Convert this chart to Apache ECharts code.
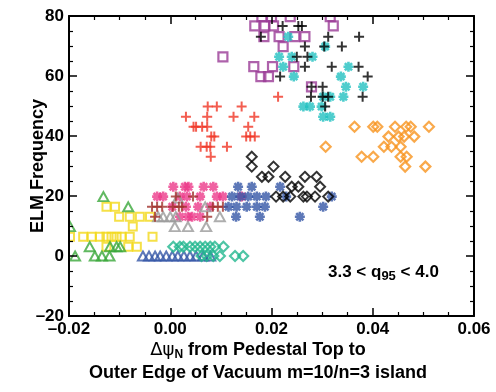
<!DOCTYPE html>
<html>
<head>
<meta charset="utf-8">
<script src="https://cdn.jsdelivr.net/npm/echarts@6/dist/echarts.min.js"></script>
<style>
  html, body { margin: 0; padding: 0; background: #fff; }
  #chart { width: 496px; height: 392px; }
</style>
</head>
<body>
<div id="chart"></div>
<script>
// Axis ticks
const xTicks = [-0.02, 0.00, 0.02, 0.04, 0.06];
const yTicks = [-20, 0, 20, 40, 60, 80];

// Each shot group: [delta psi_N, ELM frequency]
const orangeDiamonds = [
  [0.0364,43.1],[0.0401,43.1],[0.0409,43.1],[0.0444,43.1],[0.0466,43.1],[0.0475,43.1],[0.0511,43.1],
  [0.0431,39.8],[0.0451,39.8],[0.0462,39.8],[0.0482,39.8],
  [0.0307,36.4],[0.0422,36.4],[0.0437,36.4],[0.0455,36.4],
  [0.0378,33.1],[0.0401,33.1],[0.0455,33.1],[0.0467,33.1],
  [0.0464,29.8],[0.0504,29.8]
];
const redPlus = [
  [0.0074,49.8],[0.0092,49.8],[0.0141,49.8],
  [0.0031,46.4],[0.0073,46.4],[0.0125,46.4],[0.0166,46.4],
  [0.0046,43.1],[0.0051,43.1],[0.0063,43.1],[0.0073,43.1],[0.0154,43.1],
  [0.0081,39.8],[0.0087,39.8],[0.0150,39.8],[0.0158,39.8],[0.0167,39.8],
  [0.0060,36.4],[0.0072,36.4],[0.0079,36.4],[0.0112,36.4],
  [0.0080,33.1],
  [0.0213,53.1]
];
const purpleSquares = [
  [0.0167,76.7],[0.0187,76.7],[0.0204,76.7],
  [0.0181,79.8],[0.0200,79.8],[0.0237,79.8],[0.0316,79.8],[0.0322,76.7],
  [0.0185,73.1],[0.0215,73.1],[0.0246,73.1],[0.0266,73.1],
  [0.0223,69.8],[0.0104,66.4],
  [0.0165,63.1],[0.0202,63.1],[0.0244,63.1],
  [0.0179,59.8],[0.0194,59.8],
  [0.0279,56.4]
];
const blackPlus = [
  [0.0222,76.7],[0.0253,76.7],[0.0260,76.7],
  [0.0179,73.1],[0.0312,73.1],[0.0373,73.1],
  [0.0266,69.8],[0.0304,69.8],[0.0339,69.8],
  [0.0250,66.4],[0.0271,66.4],
  [0.0266,63.1],[0.0319,63.1],[0.0372,63.1],
  [0.0217,59.8],[0.0390,59.8],
  [0.0279,56.4],[0.0301,56.4],
  [0.0278,53.1],[0.0301,53.1],[0.0312,53.1],[0.0380,53.1],
  [0.0306,49.8]
];
const tealStars = [
  [0.0233,73.1],[0.0306,69.8],
  [0.0215,66.4],[0.0240,66.4],[0.0281,66.4],
  [0.0223,63.1],[0.0352,63.1],
  [0.0244,59.8],[0.0337,59.8],
  [0.0347,56.4],[0.0381,56.4],
  [0.0302,53.1],[0.0316,53.1],[0.0342,53.1],
  [0.0263,49.8],[0.0276,49.8],[0.0299,49.8],
  [0.0302,46.4],[0.0316,46.4]
];
const blackDiamonds = [
  [0.0161,33.1],[0.0161,29.8],[0.0204,29.8],
  [0.0181,26.4],[0.0194,26.4],[0.0227,26.4],[0.0266,26.4],[0.0289,26.4],
  [0.0240,23.1],[0.0253,23.1],[0.0296,23.1],
  [0.0209,19.8],[0.0223,19.8],[0.0237,19.8],[0.0263,19.8],[0.0270,19.8],[0.0286,19.8],[0.0312,19.8]
];
const blueStars = [
  [0.0134,23.1],[0.0161,23.1],[0.0217,23.1],
  [0.0122,19.8],[0.0138,19.8],[0.0154,19.8],[0.0171,19.8],[0.0189,19.8],[0.0229,19.8],[0.0319,19.8],
  [0.0115,16.4],[0.0131,16.4],[0.0151,16.4],[0.0171,16.4],[0.0187,16.4],[0.0302,16.4],
  [0.0130,13.1],[0.0177,13.1],[0.0256,13.1]
];
const pinkStars = [
  [0.0006,23.1],[0.0029,23.1],[0.0036,23.1],[0.0066,23.1],[0.0085,23.1],
  [-0.0026,19.8],[-0.0014,19.8],[0.0019,19.8],[0.0033,19.8],[0.0059,19.8],[0.0092,19.8],[0.0104,19.8],[0.0141,19.8],
  [0.0004,16.4],[0.0031,16.4],[0.0055,16.4],[0.0079,16.4],
  [0.0019,13.1],[0.0035,13.1],[0.0043,13.1],[0.0059,13.1]
];
const grayTriangles = [
  [-0.0024,13.1],[-0.0014,13.1],[0.0000,13.1],[0.0011,13.1],[0.0098,13.1],
  [0.0009,9.8],[0.0035,9.8],[0.0071,9.8],
  [0.0015,19.3],[0.0069,16.4]
];
const brownPlus = [
  [-0.0036,16.4],[-0.0026,16.4],[-0.0016,16.4],[0.0005,16.4],[0.0017,16.4],[0.0023,16.4],
  [0.0084,16.4],[0.0094,16.4],[0.0104,16.4],
  [0.0045,19.8],[0.0011,19.8],
  [-0.0030,13.1],[0.0073,13.1]
];
const tealDiamonds = [
  [0.0006,3.1],[0.0019,3.1],[0.0026,3.1],[0.0039,3.1],[0.0049,3.1],[0.0059,3.1],
  [0.0069,3.1],[0.0079,3.1],[0.0088,3.1],[0.0105,3.1],
  [0.0062,0],[0.0072,0],[0.0085,0],[0.0098,0],[0.0128,0],[0.0144,0]
];
const blueTriangles = [
  [-0.0054,0],[-0.0042,0],[-0.0030,0],[-0.0020,0],[-0.0008,0],[0.0004,0],
  [0.0015,0],[0.0027,0],[0.0039,0],[0.0051,0],[0.0065,0],[0.0079,0]
];
const yellowSquares = [
  [-0.0126,16.4],[-0.0109,16.4],
  [-0.0101,13.1],[-0.0080,13.1],[-0.0060,13.1],[-0.0040,13.1],
  [-0.0074,9.8],
  [-0.0198,6.4],[-0.0172,6.4],[-0.0155,6.4],[-0.0139,6.4],[-0.0126,6.4],[-0.0116,6.4],
  [-0.0106,6.4],[-0.0096,6.4],[-0.0080,6.4],[-0.0035,6.4],
  [-0.0126,3.1],[-0.0083,3.1],[-0.0066,3.1]
];
const greenTriangles = [
  [-0.0132,19.8],[-0.0083,16.4],[-0.0198,9.8],
  [-0.0159,3.1],[-0.0119,3.1],[-0.0106,3.1],[-0.0099,3.1],
  [-0.0188,0],[-0.0149,0],[-0.0135,0],[-0.0120,0]
];

const FONT = '"Liberation Sans", Arial, Helvetica, sans-serif';
const PLUS = 'path://M-1,0L1,0M0,-1L0,1';
const ASTERISK = 'path://M-1,0L1,0M0,-1L0,1M-0.72,-0.72L0.72,0.72M-0.72,0.72L0.72,-0.72';

// Outline-only markers (open squares, diamonds, triangles, plus and asterisk strokes)
function outlined(data, symbol, size, color, width) {
  return {
    type: 'scatter', data, symbol, symbolSize: size, silent: true,
    itemStyle: { color: 'rgba(0,0,0,0)', borderColor: color, borderWidth: width }
  };
}

const dash = v => String(v).replace('-', '\u2013');
const axisCommon = {
  axisLine: { show: true, onZero: false, lineStyle: { color: '#000', width: 2 } },
  axisTick: { show: true, inside: true, length: 8, lineStyle: { color: '#000', width: 1.5 } },
  minorTick: { show: true, splitNumber: 4, length: 4, lineStyle: { color: '#000', width: 1.2 } },
  splitLine: { show: false },
  z: 10
};

const chart = echarts.init(document.getElementById('chart'), null, { renderer: 'canvas' });
chart.setOption({
  animation: false,
  backgroundColor: '#fff',
  grid: { left: 69, right: 22, top: 16, bottom: 76 },
  xAxis: [
    Object.assign({}, axisCommon, {
      type: 'value', position: 'bottom',
      min: xTicks[0], max: xTicks[xTicks.length - 1], interval: 0.02,
      axisLabel: { color: '#000', fontFamily: FONT, fontWeight: 'bold', fontSize: 17, margin: 5,
        formatter: v => dash(v.toFixed(2)) }
    }),
    Object.assign({}, axisCommon, {
      type: 'value', position: 'top',
      min: xTicks[0], max: xTicks[xTicks.length - 1], interval: 0.02,
      axisLabel: { show: false }
    })
  ],
  yAxis: [
    Object.assign({}, axisCommon, {
      type: 'value', position: 'left',
      min: yTicks[0], max: yTicks[yTicks.length - 1], interval: 20,
      axisLabel: { color: '#000', fontFamily: FONT, fontWeight: 'bold', fontSize: 17, margin: 5,
        formatter: v => dash(v) }
    }),
    Object.assign({}, axisCommon, {
      type: 'value', position: 'right',
      min: yTicks[0], max: yTicks[yTicks.length - 1], interval: 20,
      axisLabel: { show: false }
    })
  ],
  series: [
    outlined(yellowSquares, 'rect', 8, '#f2d81a', 2),
    outlined(greenTriangles, 'triangle', [10, 9], '#3aa83a', 2),
    outlined(blueTriangles, 'triangle', [10, 9], '#3456a6', 2),
    outlined(tealDiamonds, 'diamond', 10, '#22b68e', 2.2),
    outlined(pinkStars, ASTERISK, 10, '#ec3a8a', 2.6),
    outlined(grayTriangles, 'triangle', [10, 9], '#9a9a9a', 2),
    outlined(brownPlus, PLUS, 10, '#a0302a', 2),
    outlined(blueStars, ASTERISK, 10, '#3456a6', 2.6),
    outlined(blackDiamonds, 'diamond', 10, '#000', 2),
    outlined(redPlus, PLUS, 10, '#f03424', 2),
    outlined(orangeDiamonds, 'diamond', 10, '#f7931e', 2.2),
    outlined(purpleSquares, 'rect', 9, '#9a3b96', 2.2),
    outlined(tealStars, ASTERISK, 10, '#22c0c0', 2.6),
    outlined(blackPlus, PLUS, 10, '#000', 2)
  ],
  graphic: [
    // masks keep markers from spilling past the frame
    { type: 'rect', z: 5, silent: true, shape: { x: 0, y: 0, width: 496, height: 15 }, style: { fill: '#fff' } },
    { type: 'rect', z: 5, silent: true, shape: { x: 0, y: 0, width: 68, height: 392 }, style: { fill: '#fff' } },
    {
      type: 'text', z: 20, x: 38, y: 166, rotation: Math.PI / 2,
      style: { text: 'ELM Frequency', font: 'bold 18px ' + FONT, fill: '#000', align: 'center', verticalAlign: 'middle' }
    },
    {
      type: 'text', z: 20, x: 258, y: 350,
      style: {
        text: '{d|\u0394\u03c8}{s|N}{b| from Pedestal Top to}',
        align: 'center', verticalAlign: 'middle',
        rich: {
          d: { fontSize: 18, fontFamily: '"DejaVu Sans", sans-serif', fill: '#000' },
          s: { fontSize: 12, fontWeight: 'bold', fontFamily: FONT, fill: '#000', padding: [10, 0, 0, 0] },
          b: { fontSize: 18, fontWeight: 'bold', fontFamily: FONT, fill: '#000' }
        }
      }
    },
    {
      type: 'text', z: 20, x: 258, y: 373,
      style: { text: 'Outer Edge of Vacuum m=10/n=3 island', font: 'bold 18px ' + FONT, fill: '#000', align: 'center', verticalAlign: 'middle' }
    },
    {
      type: 'text', z: 20, x: 328, y: 272,
      style: {
        text: '{b|3.3 < q}{s|95}{b| < 4.0}',
        align: 'left', verticalAlign: 'middle',
        rich: {
          b: { fontSize: 17, fontWeight: 'bold', fontFamily: FONT, fill: '#000' },
          s: { fontSize: 13, fontWeight: 'bold', fontFamily: FONT, fill: '#000', padding: [8, 0, 0, 0] }
        }
      }
    }
  ]
});
</script>
</body>
</html>
